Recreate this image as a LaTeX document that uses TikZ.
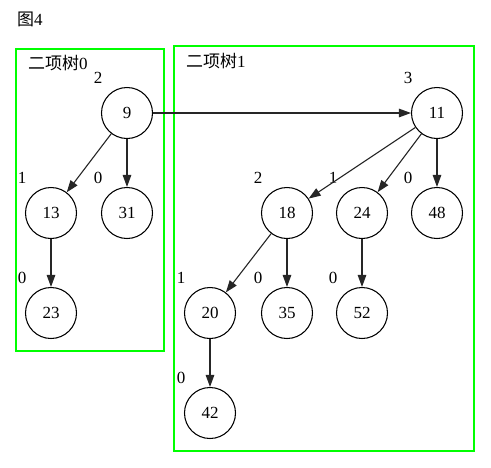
\documentclass[tikz,border=0pt]{standalone}
\usepackage{fontspec}
\setmainfont{Liberation Serif}
\newfontfamily\cjk{Noto Sans CJK SC}
\usetikzlibrary{arrows.meta}
\tikzset{>={Triangle[width=8.5pt,length=12pt]}}
\definecolor{boxgreen}{HTML}{00FF00}
\newcommand{\GREENBOX}[2]{\draw[draw=boxgreen, line width=1.15pt] #1 rectangle #2;}

\tikzset{
  key/.style={circle, draw, line width=1.05pt, minimum size=51pt, inner sep=0pt,
    font=\fontsize{17}{17}\selectfont},
  deg/.style={inner sep=0pt, font=\fontsize{17}{17}\selectfont,
    xshift=-29pt, yshift=35.5pt},
  title/.style={anchor=west, inner sep=0pt, font=\fontsize{17}{17}\selectfont},
  link/.style={->, line width=1.1pt, draw=black!85},
}

\begin{document}
\begin{tikzpicture}[x=1pt, y=-1pt]

  \useasboundingbox (0,0) rectangle (491,467); %% page size

  \node[title] (fig) at (17,19) {{\cjk 图}4};

  %% the two trees
  \GREENBOX{(16,49)}{(164,351)}
  \GREENBOX{(174,46)}{(474,451)}
  \node[title] (tree0) at (28,63) {{\cjk 二项树}0};
  \node[title] (tree1) at (186,61) {{\cjk 二项树}1};

  %% keys
  \node[key] (n9)  at (127,113) {9};
  \node[key] (n13) at (51,213)  {13};
  \node[key] (n31) at (127,213) {31};
  \node[key] (n23) at (51,313)  {23};

  \node[key] (n11) at (437,113) {11};
  \node[key] (n18) at (287,213) {18};
  \node[key] (n24) at (362,213) {24};
  \node[key] (n48) at (437,213) {48};
  \node[key] (n20) at (210,313) {20};
  \node[key] (n35) at (287,313) {35};
  \node[key] (n52) at (362,313) {52};
  \node[key] (n42) at (210,413) {42};

  %% degrees
  \node[deg] (d9)  at (n9)  {2};
  \node[deg] (d13) at (n13) {1};
  \node[deg] (d31) at (n31) {0};
  \node[deg] (d23) at (n23) {0};
  \node[deg] (d11) at (n11) {3};
  \node[deg] (d18) at (n18) {2};
  \node[deg] (d24) at (n24) {1};
  \node[deg] (d48) at (n48) {0};
  \node[deg] (d20) at (n20) {1};
  \node[deg] (d35) at (n35) {0};
  \node[deg] (d52) at (n52) {0};
  \node[deg] (d42) at (n42) {0};

  %% links
  \draw[link] (n9) -- (n11);
  \draw[link] (n9) -- (n13);
  \draw[link] (n9) -- (n31);
  \draw[link] (n13) -- (n23);
  \draw[link] (n11) -- (n18);
  \draw[link] (n11) -- (n24);
  \draw[link] (n11) -- (n48);
  \draw[link] (n18) -- (n20);
  \draw[link] (n18) -- (n35);
  \draw[link] (n24) -- (n52);
  \draw[link] (n20) -- (n42);

\end{tikzpicture}
\end{document}
